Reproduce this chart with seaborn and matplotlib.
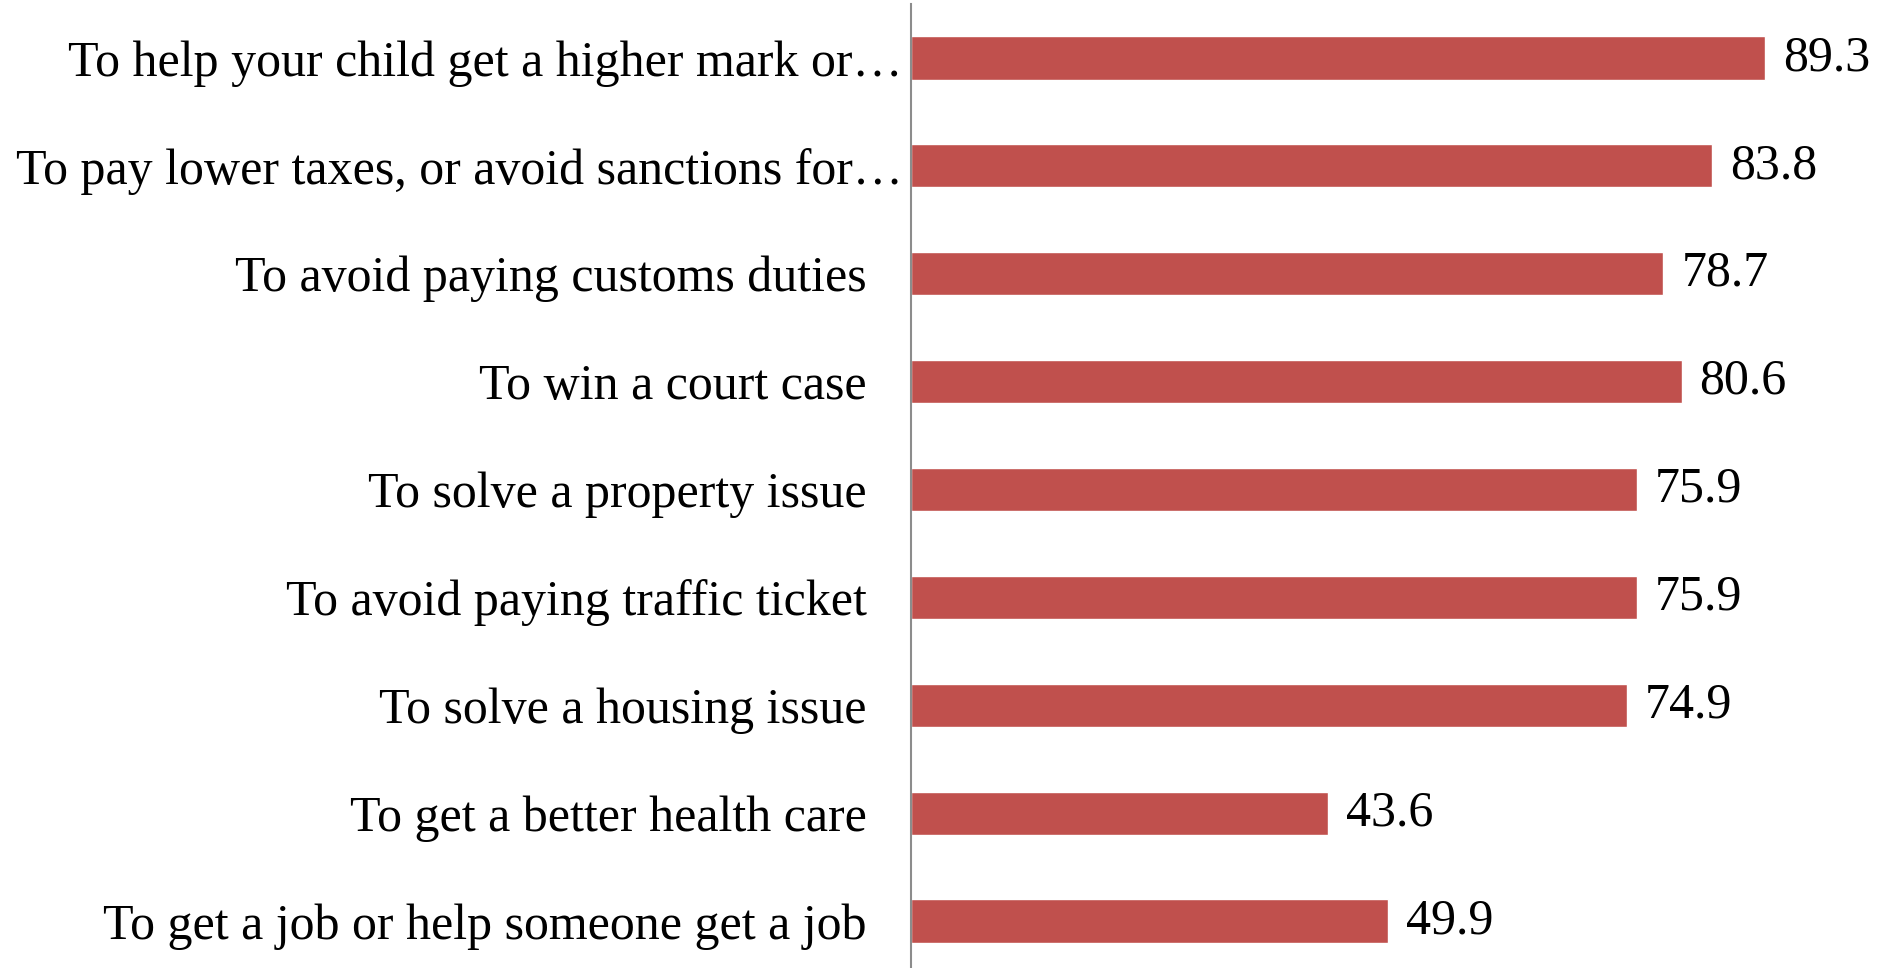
import matplotlib
matplotlib.use("Agg")
import matplotlib.pyplot as plt
import seaborn as sns
import pandas as pd

# Reasons for giving a bribe (share of respondents, %)
reasons = [
    "To help your child get a higher mark or\u2026",
    "To pay lower taxes, or avoid sanctions for\u2026",
    "To avoid paying customs duties",
    "To win a court case",
    "To solve a property issue",
    "To avoid paying traffic ticket",
    "To solve a housing issue",
    "To get a better health care",
    "To get a job or help someone get a job",
]
shares = [89.3, 83.8, 78.7, 80.6, 75.9, 75.9, 74.9, 43.6, 49.9]

df = pd.DataFrame({"reason": reasons, "share": shares})

sns.set_theme(style="white")
plt.rcParams["font.family"] = ["Liberation Serif", "DejaVu Serif"]

fig = plt.figure(figsize=(18.88, 9.68), dpi=100)
ax = fig.add_axes([911 / 1888, -7 / 968, 1 - 911 / 1888, 971 / 968])

sns.barplot(data=df, x="share", y="reason", orient="h", color="#C0504D",
            saturation=1, width=0.4, ax=ax)

ax.bar_label(ax.containers[0], fmt="%.1f", padding=13, fontsize=36, color="black")

ax.set_xlim(0, 102.2)
ax.set_ylim(len(reasons) - 0.5, -0.5)
ax.set_xlabel("")
ax.set_ylabel("")
ax.set_xticks([])

# category labels: truncated ones sit close to the axis, the rest a bit further out
ax.set_yticklabels([])
ax.tick_params(axis="y", length=0)
for pos, label in zip(ax.get_yticks(), reasons):
    offset = -6 if label.endswith("\u2026") else -32
    ax.annotate(label, xy=(0, pos), xycoords=("axes fraction", "data"),
                xytext=(offset, 0), textcoords="offset points",
                ha="right", va="center_baseline", fontsize=36, color="black",
                annotation_clip=False)

for side in ["top", "right", "bottom"]:
    ax.spines[side].set_visible(False)
ax.spines["left"].set_color("#8c8c8c")
ax.spines["left"].set_linewidth(1.5)

fig.savefig("out.png", dpi=100, facecolor="white")
